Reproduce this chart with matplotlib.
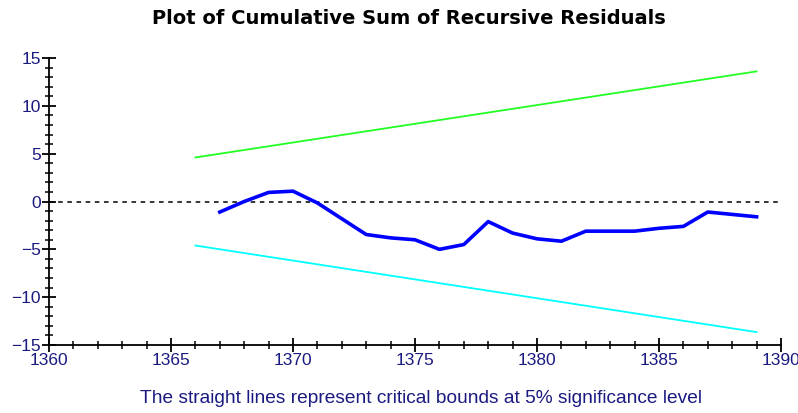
import matplotlib
matplotlib.use("Agg")
import matplotlib.pyplot as plt
from matplotlib.ticker import MultipleLocator

# CUSUM of recursive residuals
years = list(range(1367, 1390))
cusum = [-1.1, 0.0, 0.95, 1.08, -0.15, -1.8, -3.45, -3.8, -4.0, -5.0, -4.5,
         -2.1, -3.3, -3.9, -4.15, -3.1, -3.1, -3.1, -2.8, -2.6, -1.1, -1.35, -1.6]

# 5% critical bounds (straight lines)
bound_years = [1366, 1389]
upper = [4.6, 13.6]
lower = [-4.6, -13.65]

navy = "#1a1a80"

fig = plt.figure(figsize=(7.98, 4.13), dpi=100)
ax = fig.add_axes([0.0614, 0.1646, 0.9173, 0.695])

ax.axhline(0, color="black", lw=1.1, ls=(0, (3, 3)))
ax.plot(bound_years, upper, color="#22ff22", lw=1.3)
ax.plot(bound_years, lower, color="#00ffff", lw=1.3)
ax.plot(years, cusum, color="#0000ff", lw=2.6, solid_joinstyle="round")

ax.set_xlim(1360, 1390)
ax.set_ylim(-15, 15)
ax.xaxis.set_major_locator(MultipleLocator(5))
ax.xaxis.set_minor_locator(MultipleLocator(1))
ax.yaxis.set_major_locator(MultipleLocator(5))
ax.yaxis.set_minor_locator(MultipleLocator(1))

for s in ("top", "right"):
    ax.spines[s].set_visible(False)
for s in ("left", "bottom"):
    ax.spines[s].set_linewidth(1.3)

ax.tick_params(which="major", direction="inout", length=10, width=1.3,
               labelsize=12.5, labelcolor=navy, pad=1)
ax.tick_params(which="minor", direction="inout", length=6, width=1.1)
for lab in ax.get_xticklabels() + ax.get_yticklabels():
    lab.set_family("Liberation Sans")

fig.text(0.512, 0.955, "Plot of Cumulative Sum of Recursive Residuals",
         ha="center", va="center", fontsize=14, fontweight="bold",
         family="DejaVu Sans", color="black")
fig.text(0.528, 0.036,
         "The straight lines represent critical bounds at 5% significance level",
         ha="center", va="center", fontsize=13.8, family="Liberation Sans",
         color=navy)

fig.savefig("out.png", dpi=100)
